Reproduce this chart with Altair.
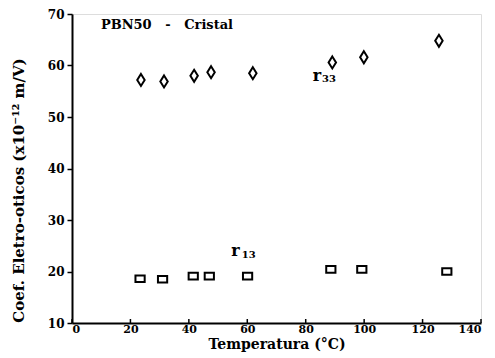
import altair as alt
import pandas as pd

# r33 data (diamonds)
t33 = [23.6, 31.5, 41.8, 47.6, 61.9, 89.1, 99.9, 125.6]
r33 = [57.2, 56.9, 58.0, 58.7, 58.5, 60.6, 61.6, 64.8]
# r13 data (squares)
t13 = [23.3, 31.0, 41.5, 47.0, 60.1, 88.6, 99.2, 128.3]
r13 = [18.6, 18.5, 19.1, 19.1, 19.1, 20.4, 20.4, 20.0]

x_ticks = [0, 20, 40, 60, 80, 100, 120, 140]
y_ticks = [10, 20, 30, 40, 50, 60, 70]

df33 = pd.DataFrame({"T": t33, "r": r33})
df13 = pd.DataFrame({"T": t13, "r": r13})

FONT = "DejaVu Serif"

xs = alt.Scale(domain=[0, 140], nice=False)
ys = alt.Scale(domain=[10, 70], nice=False)

xenc = alt.X("T:Q", scale=xs,
             axis=alt.Axis(values=x_ticks, title="Temperatura  (°C)", grid=False,
                           ticks=False, labelFontSize=11, labelFontWeight="bold",
                           titleFontSize=14, titleFontWeight="bold", titlePadding=3,
                           labelPadding=0, domainColor="black",
                           labelColor="black", titleColor="black", domainWidth=2,
                           labelFont=FONT, titleFont=FONT))
yenc = alt.Y("r:Q", scale=ys,
             axis=alt.Axis(values=y_ticks, title="Coef. Eletro-oticos (x10⁻¹² m/V)", grid=False,
                           tickSize=5, tickWidth=1.5, labelFontSize=12, labelFontWeight="bold",
                           titleFontSize=15, titleFontWeight="bold",
                           titleX=-46, titleY=176,
                           labelPadding=3, domainColor="black", tickColor="black",
                           labelColor="black", titleColor="black", domainWidth=2,
                           labelFont=FONT, titleFont=FONT))

diamond = "M0,-1L0.62,0L0,1L-0.62,0Z"
square = "M-1,-0.72L1,-0.72L1,0.72L-1,0.72Z"

p33 = alt.Chart(df33).mark_point(shape=diamond, size=144, filled=False,
                                 stroke="black", strokeWidth=2, opacity=1).encode(x=xenc, y=yenc)
p13 = alt.Chart(df13).mark_point(shape=square, size=85, filled=False,
                                 stroke="black", strokeWidth=2, opacity=1).encode(x=xenc, y=yenc)

# inward ticks on the bottom axis
xtick = alt.Chart(pd.DataFrame({"T": x_ticks})).mark_rule(color="black", strokeWidth=1.5).encode(
    x=alt.X("T:Q", scale=xs), y=alt.value(309), y2=alt.value(305))

title_txt = alt.Chart(pd.DataFrame({"T": [9.9], "r": [67.9],
                                    "t": ["PBN50\u00a0\u00a0\u00a0-\u00a0\u00a0\u00a0Cristal"]})).mark_text(
    align="left", baseline="middle", font=FONT, fontWeight="bold", fontSize=13, color="black"
).encode(x=alt.X("T:Q", scale=xs), y=alt.Y("r:Q", scale=ys), text="t:N")

r_main = alt.Chart(pd.DataFrame({"T": [82.4, 54.5], "r": [58.0, 24.0], "t": ["r", "r"]})).mark_text(
    align="left", baseline="middle", font=FONT, fontWeight="bold", fontSize=16, color="black"
).encode(x=alt.X("T:Q", scale=xs), y=alt.Y("r:Q", scale=ys), text="t:N")
r_sub = alt.Chart(pd.DataFrame({"T": [85.6, 58.1], "r": [57.3, 23.3], "t": ["33", "13"]})).mark_text(
    align="left", baseline="middle", font=FONT, fontWeight="bold", fontSize=10, color="black"
).encode(x=alt.X("T:Q", scale=xs), y=alt.Y("r:Q", scale=ys), text="t:N")

chart = alt.layer(p33, p13, xtick, title_txt, r_main, r_sub).properties(
    width=409, height=309,
    autosize=alt.AutoSizeParams(type="none"),
    padding={"left": 64, "top": 6, "right": 6, "bottom": 33},
).configure_view(stroke="black", strokeWidth=2).configure(background="white")

chart.save("out.html", embed_options={"renderer": "svg", "actions": False})
